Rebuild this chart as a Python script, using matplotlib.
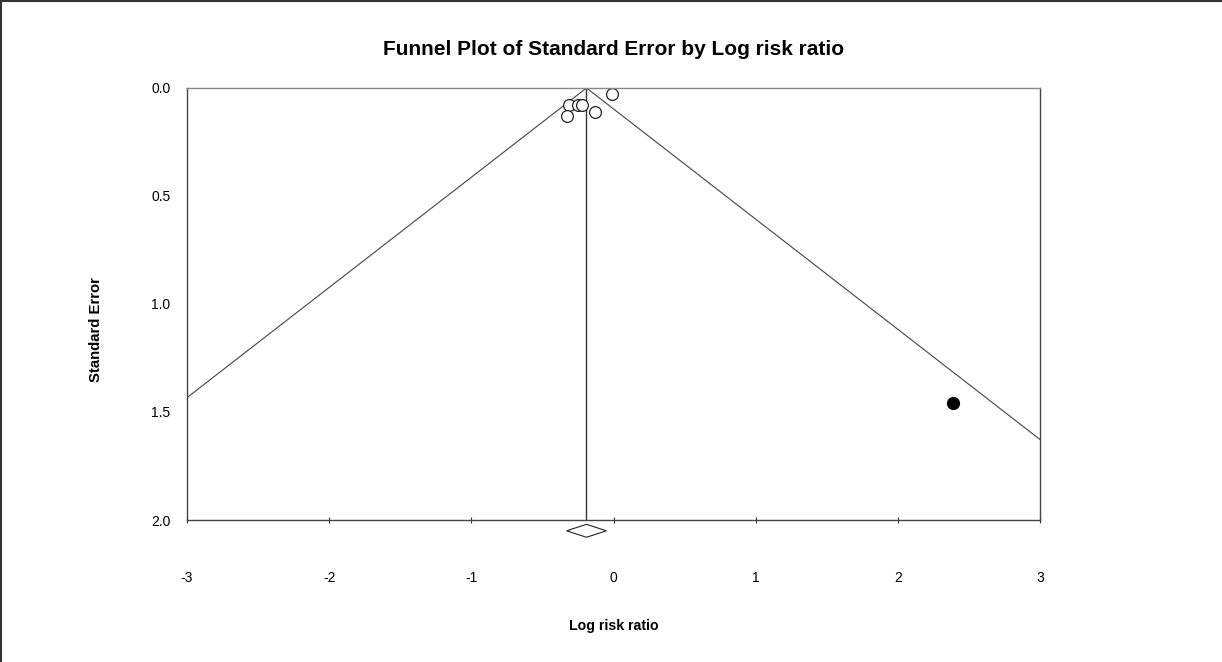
import matplotlib.pyplot as plt
from matplotlib.lines import Line2D
from matplotlib.patches import Polygon

# observed studies (open circles)
study_logrr = [-0.01, -0.31, -0.33, -0.25, -0.22, -0.13]
study_se = [0.03, 0.08, 0.13, 0.08, 0.08, 0.11]

# imputed study (filled circle)
imputed_logrr = [2.39]
imputed_se = [1.46]

# summary estimate and its confidence interval
summary_mean = -0.19
summary_lo = -0.33
summary_hi = -0.05

x_ticks = [-3, -2, -1, 0, 1, 2, 3]
y_ticks = [0.0, 0.5, 1.0, 1.5, 2.0]

plt.rcParams['font.family'] = ['Liberation Sans', 'DejaVu Sans']

fig = plt.figure(figsize=(12.22, 6.62), dpi=100)
ax = fig.add_axes([0.1530, 0.2145, 0.6981, 0.6526])

# funnel: mean +/- 1.96 * SE
se_line = [0.0, 2.0]
ax.plot([summary_mean - 1.96 * s for s in se_line], se_line, color='#444444', lw=0.8)
ax.plot([summary_mean + 1.96 * s for s in se_line], se_line, color='#444444', lw=0.8)
ax.plot([summary_mean, summary_mean], [0, 2], color='#333333', lw=1.0)

ax.plot(study_logrr, study_se, 'o', mfc='white', mec='#222222', mew=0.9, ms=8.5, ls='none')
ax.plot(imputed_logrr, imputed_se, 'o', color='black', ms=8.5, ls='none')

# summary diamond below the axis
diamond = Polygon([(summary_lo, 2.05), (summary_mean, 2.02), (summary_hi, 2.05), (summary_mean, 2.08)],
                  closed=True, fill=False, edgecolor='#222222', lw=0.8, clip_on=False)
ax.add_patch(diamond)

ax.set_xlim(-3, 3)
ax.set_ylim(2.0, 0.0)
ax.set_xticks(x_ticks)
ax.set_xticklabels([str(t) for t in x_ticks])
ax.set_yticks(y_ticks)
ax.set_yticklabels([f'{t:.1f}' for t in y_ticks])

ax.tick_params(axis='x', direction='inout', length=5, width=0.8, color='#333333', pad=34, labelsize=10)
ax.tick_params(axis='y', length=0, pad=12, labelsize=10)

ax.spines['top'].set_color('#888888')
ax.spines['bottom'].set_color('#444444')
ax.spines['left'].set_color('#444444')
ax.spines['right'].set_color('#444444')
for sp in ax.spines.values():
    sp.set_linewidth(1.0)

ax.set_title('Funnel Plot of Standard Error by Log risk ratio', fontsize=15, fontweight='bold', pad=24)
ax.set_xlabel('Log risk ratio', fontsize=10.2, fontweight='bold', labelpad=25)
ax.set_ylabel('Standard Error', fontsize=10.7, fontweight='bold', labelpad=28)
ax.yaxis.set_label_coords(-0.099, 0.44)

# figure frame (top and left edges)
fig.add_artist(Line2D([0, 1], [0.999, 0.999], transform=fig.transFigure, color='#333333', lw=1.5))
fig.add_artist(Line2D([0.0005, 0.0005], [0, 1], transform=fig.transFigure, color='#333333', lw=1.5))

plt.savefig('out.png', dpi=100)
